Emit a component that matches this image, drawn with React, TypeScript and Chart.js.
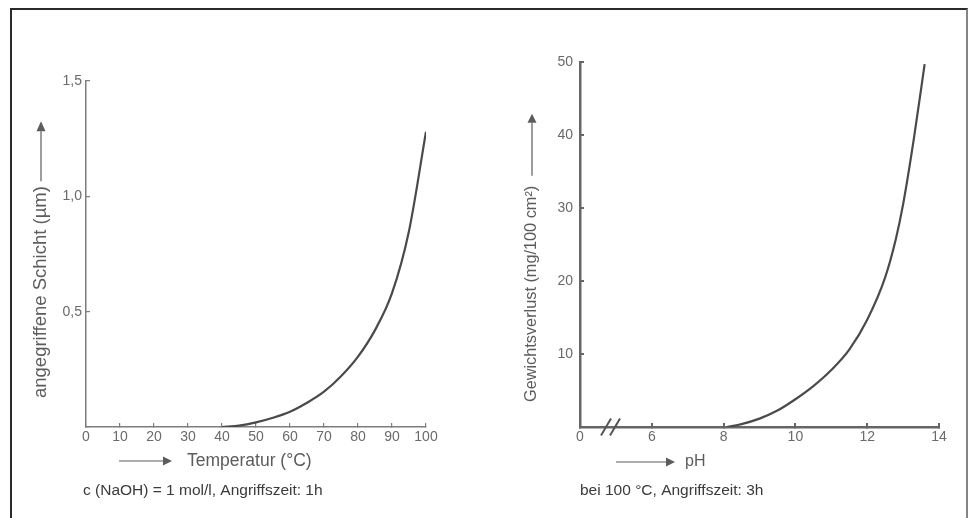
import React, { useEffect, useRef } from "react";
import { Chart, registerables } from "chart.js";

Chart.register(...registerables);

// ---- Data ----
const tempC = [40, 45, 50, 55, 60, 65, 70, 75, 80, 85, 90, 95, 100];
const layerUm = [0, 0.006, 0.02, 0.04, 0.066, 0.105, 0.153, 0.22, 0.305, 0.42, 0.58, 0.85, 1.28];

const phValues = [8.1, 8.5, 9, 9.5, 10, 10.5, 11, 11.5, 12, 12.5, 12.8, 13, 13.3, 13.6];
const lossMg = [0, 0.4, 1.15, 2.25, 3.8, 5.6, 7.8, 10.6, 14.7, 20.5, 25.8, 30.5, 39.5, 49.7];

// tick labels
const layerTickLabels: Record<string, string> = { "0.5": "0,5", "1": "1,0", "1.5": "1,5" };
const phAxisValues = [4, 6, 8, 10, 12, 14];
const phAxisLabels = ["0", "6", "8", "10", "12", "14"];

const leftTexts = {
  yTitle: "angegriffene Schicht (µm)",
  xTitle: "Temperatur (°C)",
  note: "c (NaOH) = 1 mol/l, Angriffszeit: 1h",
};
const rightTexts = {
  yTitle: "Gewichtsverlust (mg/100 cm²)",
  xTitle: "pH",
  note: "bei 100 °C, Angriffszeit: 3h",
};

const FONT = "'Liberation Sans', Arial, Helvetica, sans-serif";

type Deco = {
  yTitle: string;
  yFont: number;
  yX: number;
  yStart: number;
  yGap: number;
  yLine: number;
  yHead: number;
  xTitle: string;
  xFont: number;
  xX: number;
  xY: number;
  xGap: number;
  xLine: number;
  xHead: number;
  note: string;
  noteX: number;
  noteY: number;
  breakAt?: number;
};

function makeDecoPlugin(d: Deco) {
  return {
    id: "deco",
    afterDraw(chart: any) {
      const ctx: CanvasRenderingContext2D = chart.ctx;
      ctx.save();
      // y title (rotated) with arrow pointing up
      ctx.fillStyle = "#5c5c5c";
      ctx.strokeStyle = "#5c5c5c";
      ctx.font = `${d.yFont}px ${FONT}`;
      const yw = ctx.measureText(d.yTitle).width;
      ctx.save();
      ctx.translate(d.yX, d.yStart);
      ctx.rotate(-Math.PI / 2);
      ctx.textAlign = "left";
      ctx.textBaseline = "middle";
      ctx.fillText(d.yTitle, 0, 0);
      ctx.restore();
      const aStart = d.yStart - yw - d.yGap;
      const aEnd = aStart - d.yLine;
      ctx.lineWidth = 1.2;
      ctx.beginPath();
      ctx.moveTo(d.yX, aStart);
      ctx.lineTo(d.yX, aEnd);
      ctx.stroke();
      ctx.beginPath();
      ctx.moveTo(d.yX - 4.5, aEnd);
      ctx.lineTo(d.yX + 4.5, aEnd);
      ctx.lineTo(d.yX, aEnd - d.yHead);
      ctx.closePath();
      ctx.fill();

      // x title with arrow pointing right
      ctx.font = `${d.xFont}px ${FONT}`;
      ctx.textAlign = "left";
      ctx.textBaseline = "middle";
      ctx.fillText(d.xTitle, d.xX, d.xY);
      const tip = d.xX - d.xGap;
      const base = tip - d.xHead;
      ctx.beginPath();
      ctx.moveTo(base - d.xLine, d.xY);
      ctx.lineTo(base, d.xY);
      ctx.stroke();
      ctx.beginPath();
      ctx.moveTo(base, d.xY - 4.5);
      ctx.lineTo(base, d.xY + 4.5);
      ctx.lineTo(tip, d.xY);
      ctx.closePath();
      ctx.fill();

      // note
      ctx.fillStyle = "#3a3a3a";
      ctx.font = `15.5px ${FONT}`;
      ctx.fillText(d.note, d.noteX, d.noteY);

      // axis break
      if (d.breakAt !== undefined) {
        const xs = chart.scales.x;
        const px = xs.getPixelForValue(d.breakAt);
        const py = chart.chartArea.bottom;
        ctx.strokeStyle = "#555555";
        ctx.lineWidth = 2;
        for (const off of [-4.5, 4.5]) {
          ctx.beginPath();
          ctx.moveTo(px + off - 5, py + 8.5);
          ctx.lineTo(px + off + 5, py - 8.5);
          ctx.stroke();
        }
      }
      ctx.restore();
    },
  };
}

function axisBase(color: string, width: number) {
  return {
    border: { display: true, color, width },
    grid: {
      drawOnChartArea: false,
      drawTicks: true,
      tickLength: -4,
      color,
      lineWidth: width * 0.8,
    },
  };
}

export default function App() {
  const leftRef = useRef<HTMLCanvasElement | null>(null);
  const rightRef = useRef<HTMLCanvasElement | null>(null);

  useEffect(() => {
    const tickFont = { family: FONT, size: 14 };
    const leftChart = new Chart(leftRef.current!, {
      type: "line",
      data: {
        datasets: [
          {
            data: tempC.map((t, i) => ({ x: t, y: layerUm[i] })),
            borderColor: "#4a4a4a",
            borderWidth: 2.2,
            pointRadius: 0,
            cubicInterpolationMode: "monotone",
            fill: false,
          },
        ],
      },
      options: {
        animation: false,
        responsive: false,
        layout: { padding: { left: 0, top: 81, right: 59, bottom: 0 } },
        plugins: { legend: { display: false }, tooltip: { enabled: false } },
        scales: {
          x: {
            type: "linear",
            min: 0,
            max: 100,
            ...axisBase("#7d7d7d", 1.5),
            ticks: { stepSize: 10, padding: 6, color: "#6a6a6a", font: tickFont, maxRotation: 0 },
            afterFit: (s: any) => {
              s.height = 91;
            },
          },
          y: {
            type: "linear",
            min: 0,
            max: 1.5,
            ...axisBase("#7d7d7d", 1.5),
            ticks: {
              stepSize: 0.5,
              padding: 8,
              color: "#6a6a6a",
              font: tickFont,
              callback: (v: any) => layerTickLabels[String(v)] ?? "",
            },
            afterFit: (s: any) => {
              s.width = 86;
            },
          },
        },
      } as any,
      plugins: [
        makeDecoPlugin({
          yTitle: leftTexts.yTitle,
          yFont: 18.5,
          yX: 41,
          yStart: 398,
          yGap: 5,
          yLine: 50,
          yHead: 10,
          xTitle: leftTexts.xTitle,
          xFont: 17.5,
          xX: 187,
          xY: 461,
          xGap: 15,
          xLine: 44,
          xHead: 9,
          note: leftTexts.note,
          noteX: 83,
          noteY: 491,
        }),
      ],
    });

    const rightChart = new Chart(rightRef.current!, {
      type: "line",
      data: {
        datasets: [
          {
            data: phValues.map((p, i) => ({ x: p, y: lossMg[i] })),
            borderColor: "#4a4a4a",
            borderWidth: 2.2,
            pointRadius: 0,
            cubicInterpolationMode: "monotone",
            fill: false,
          },
        ],
      },
      options: {
        animation: false,
        responsive: false,
        layout: { padding: { left: 0, top: 62, right: 31, bottom: 0 } },
        plugins: { legend: { display: false }, tooltip: { enabled: false } },
        scales: {
          x: {
            type: "linear",
            min: 4,
            max: 14,
            ...axisBase("#666666", 2.5),
            afterBuildTicks: (s: any) => {
              s.ticks = phAxisValues.map((v) => ({ value: v }));
            },
            ticks: {
              padding: 6,
              color: "#6a6a6a",
              font: tickFont,
              maxRotation: 0,
              callback: (v: any) => {
                const i = phAxisValues.indexOf(Number(v));
                return i >= 0 ? phAxisLabels[i] : "";
              },
            },
            afterFit: (s: any) => {
              s.height = 91;
            },
          },
          y: {
            type: "linear",
            min: 0,
            max: 50,
            ...axisBase("#666666", 2.5),
            ticks: {
              stepSize: 10,
              padding: 11,
              color: "#6a6a6a",
              font: tickFont,
              callback: (v: any) => (Number(v) === 0 ? "" : String(v)),
            },
            afterFit: (s: any) => {
              s.width = 95;
            },
          },
        },
      } as any,
      plugins: [
        makeDecoPlugin({
          yTitle: rightTexts.yTitle,
          yFont: 16.3,
          yX: 47,
          yStart: 402,
          yGap: 10,
          yLine: 53,
          yHead: 9,
          xTitle: rightTexts.xTitle,
          xFont: 16,
          xX: 200,
          xY: 462,
          xGap: 10,
          xLine: 50,
          xHead: 9,
          note: rightTexts.note,
          noteX: 95,
          noteY: 491,
          breakAt: 4.85,
        }),
      ],
    });

    return () => {
      leftChart.destroy();
      rightChart.destroy();
    };
  }, []);

  return (
    <div
      style={{
        position: "fixed",
        left: 0,
        top: 0,
        width: 970,
        height: 518,
        overflow: "hidden",
        background: "#ffffff",
      }}
    >
      <div
        style={{
          position: "absolute",
          left: 10,
          top: 8,
          width: 954,
          height: 600,
          borderLeft: "2px solid #2a2a2a",
          borderTop: "2px solid #2a2a2a",
          borderRight: "2px solid #858585",
        }}
      />
      <div style={{ position: "absolute", left: 0, top: 0, width: 485, height: 518 }}>
        <canvas ref={leftRef} width={485} height={518} />
      </div>
      <div style={{ position: "absolute", left: 485, top: 0, width: 485, height: 518 }}>
        <canvas ref={rightRef} width={485} height={518} />
      </div>
    </div>
  );
}
